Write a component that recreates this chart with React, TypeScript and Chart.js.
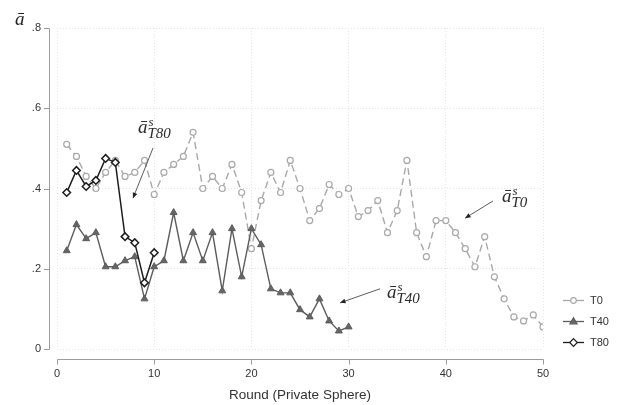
import { useEffect, useRef } from "react";
import { Chart, registerables } from "chart.js";

Chart.register(...registerables);

// ---------- data ----------
const rounds = [
  1, 2, 3, 4, 5, 6, 7, 8, 9, 10,
  11, 12, 13, 14, 15, 16, 17, 18, 19, 20,
  21, 22, 23, 24, 25, 26, 27, 28, 29, 30,
  31, 32, 33, 34, 35, 36, 37, 38, 39, 40,
  41, 42, 43, 44, 45, 46, 47, 48, 49, 50,
];

const t0Values = [
  0.51, 0.48, 0.43, 0.40, 0.44, 0.47, 0.43, 0.44, 0.47, 0.385,
  0.44, 0.46, 0.48, 0.54, 0.40, 0.43, 0.40, 0.46, 0.39, 0.25,
  0.37, 0.44, 0.39, 0.47, 0.40, 0.32, 0.35, 0.41, 0.385, 0.40,
  0.33, 0.345, 0.37, 0.29, 0.345, 0.47, 0.29, 0.23, 0.32, 0.32,
  0.29, 0.25, 0.205, 0.28, 0.18, 0.125, 0.08, 0.07, 0.085, 0.055,
];

const t40Values = [
  0.245, 0.31, 0.275, 0.29, 0.205, 0.205, 0.22, 0.23, 0.125, 0.205,
  0.22, 0.34, 0.22, 0.29, 0.22, 0.29, 0.145, 0.30, 0.18, 0.30,
  0.26, 0.15, 0.14, 0.14, 0.098, 0.08, 0.125, 0.07, 0.045, 0.055,
];

const t80Values = [0.39, 0.445, 0.405, 0.42, 0.475, 0.465, 0.28, 0.265, 0.165, 0.24];

const seriesNames = ["T0", "T40", "T80"];
const yTickLabels = ["0", ".2", ".4", ".6", ".8"];
const xTitle = "Round (Private Sphere)";
const yTitle = "ā";

// annotation labels (data units): label anchor, arrow start, arrow end
const annotations = [
  { sub: "T80", at: [8.33, 0.538], from: [9.88, 0.501], to: [7.82, 0.376] },
  { sub: "T0", at: [45.78, 0.366], from: [44.86, 0.369], to: [41.98, 0.326] },
  { sub: "T40", at: [33.95, 0.127], from: [33.23, 0.15], to: [29.12, 0.115] },
];

const colors = {
  t0: "#a8a8a8",
  t40: "#5c5c5c",
  t80: "#1c1c1c",
  axis: "#9c9c9c",
  grid: "#e4e4e4",
  text: "#333333",
};

const SANS = '"Liberation Sans", Arial, sans-serif';
const SERIF = '"Liberation Serif", "Times New Roman", serif';

function drawMarker(ctx: CanvasRenderingContext2D, style: string, cx: number, cy: number, r: number, fill: string, stroke: string, lw: number) {
  ctx.save();
  ctx.fillStyle = fill;
  ctx.strokeStyle = stroke;
  ctx.lineWidth = lw;
  ctx.setLineDash([]);
  ctx.beginPath();
  if (style === "circle") {
    ctx.arc(cx, cy, r, 0, Math.PI * 2);
  } else if (style === "triangle") {
    ctx.moveTo(cx, cy - r);
    ctx.lineTo(cx + r * 0.95, cy + r * 0.6);
    ctx.lineTo(cx - r * 0.95, cy + r * 0.6);
    ctx.closePath();
  } else {
    ctx.moveTo(cx, cy - r);
    ctx.lineTo(cx + r, cy);
    ctx.lineTo(cx, cy + r);
    ctx.lineTo(cx - r, cy);
    ctx.closePath();
  }
  ctx.fill();
  ctx.stroke();
  ctx.restore();
}

const overlayPlugin = {
  id: "overlay",
  afterDraw(chart: any) {
    const { ctx } = chart;
    const xs = chart.scales.x;
    const ys = chart.scales.y;
    ctx.save();

    // --- separated axes (Stata style) ---
    ctx.strokeStyle = colors.axis;
    ctx.lineWidth = 1;
    ctx.setLineDash([]);
    const yAxisX = Math.round(xs.left) - 7.5;
    const yTop = Math.round(ys.getPixelForValue(ys.max)) + 0.5;
    const yBot = Math.round(ys.getPixelForValue(ys.min)) + 0.5;
    ctx.beginPath();
    ctx.moveTo(yAxisX, yTop);
    ctx.lineTo(yAxisX, yBot);
    ys.ticks.forEach((t: any) => {
      const py = Math.round(ys.getPixelForValue(t.value)) + 0.5;
      ctx.moveTo(yAxisX - 5.5, py);
      ctx.lineTo(yAxisX, py);
    });
    const xAxisY = Math.round(ys.bottom) + 10.5;
    const xL = Math.round(xs.getPixelForValue(xs.min)) + 0.5;
    const xR = Math.round(xs.getPixelForValue(xs.max)) + 0.5;
    ctx.moveTo(xL, xAxisY);
    ctx.lineTo(xR, xAxisY);
    xs.ticks.forEach((t: any) => {
      const px = Math.round(xs.getPixelForValue(t.value)) + 0.5;
      ctx.moveTo(px, xAxisY);
      ctx.lineTo(px, xAxisY + 5);
    });
    ctx.stroke();

    // --- y title ---
    ctx.fillStyle = "#222";
    ctx.font = `italic 19px ${SERIF}`;
    ctx.textAlign = "left";
    ctx.textBaseline = "alphabetic";
    ctx.fillText(yTitle, 15, 25);

    // --- annotations ---
    annotations.forEach((a) => {
      const lx = xs.getPixelForValue(a.at[0]);
      const ly = ys.getPixelForValue(a.at[1]);
      ctx.fillStyle = "#2a2a2a";
      ctx.font = `italic 19px ${SERIF}`;
      ctx.fillText("ā", lx, ly);
      const w = ctx.measureText("ā").width;
      ctx.font = `italic 13px ${SERIF}`;
      ctx.fillText("s", lx + w + 1, ly - 7);
      ctx.font = `italic 15px ${SERIF}`;
      ctx.fillText(a.sub, lx + w, ly + 5);

      const x1 = xs.getPixelForValue(a.from[0]);
      const y1 = ys.getPixelForValue(a.from[1]);
      const x2 = xs.getPixelForValue(a.to[0]);
      const y2 = ys.getPixelForValue(a.to[1]);
      ctx.strokeStyle = "#4a4a4a";
      ctx.lineWidth = 0.9;
      ctx.beginPath();
      ctx.moveTo(x1, y1);
      ctx.lineTo(x2, y2);
      ctx.stroke();
      const ang = Math.atan2(y2 - y1, x2 - x1);
      const L = 5.5, H = 2.4;
      ctx.fillStyle = "#222";
      ctx.beginPath();
      ctx.moveTo(x2, y2);
      ctx.lineTo(x2 - L * Math.cos(ang) + H * Math.sin(ang), y2 - L * Math.sin(ang) - H * Math.cos(ang));
      ctx.lineTo(x2 - L * Math.cos(ang) - H * Math.sin(ang), y2 - L * Math.sin(ang) + H * Math.cos(ang));
      ctx.closePath();
      ctx.fill();
    });

    // --- legend ---
    const legendStyles = [
      { style: "circle", color: colors.t0, fill: "#fff", r: 2.8, dash: [] as number[] },
      { style: "triangle", color: colors.t40, fill: "#666", r: 3.8, dash: [] as number[] },
      { style: "diamond", color: colors.t80, fill: "#fff", r: 3.8, dash: [] as number[] },
    ];
    seriesNames.forEach((name, i) => {
      const cy = 300 + i * 21 + 0.5;
      const s = legendStyles[i];
      ctx.strokeStyle = s.color;
      ctx.lineWidth = 1.3;
      ctx.beginPath();
      ctx.moveTo(563, cy);
      ctx.lineTo(584, cy);
      ctx.stroke();
      drawMarker(ctx, s.style, 573.5, cy, s.r, s.fill, s.color, 1.2);
      ctx.fillStyle = colors.text;
      ctx.font = `11px ${SANS}`;
      ctx.textBaseline = "middle";
      ctx.fillText(name, 590, cy);
      ctx.textBaseline = "alphabetic";
    });

    ctx.restore();
  },
};

export default function App() {
  const canvasRef = useRef<HTMLCanvasElement | null>(null);

  useEffect(() => {
    if (!canvasRef.current) return;
    Chart.defaults.font.family = SANS;
    const chart = new Chart(canvasRef.current, {
      type: "line",
      data: {
        datasets: [
          {
            label: seriesNames[0],
            data: rounds.map((r, i) => ({ x: r, y: t0Values[i] })),
            borderColor: colors.t0,
            borderWidth: 1.4,
            borderDash: [7, 4],
            pointStyle: "circle",
            pointRadius: 3,
            pointBackgroundColor: "#ffffff",
            pointBorderColor: colors.t0,
            pointBorderWidth: 1.2,
            tension: 0,
            order: 2,
          },
          {
            label: seriesNames[1],
            data: t40Values.map((v, i) => ({ x: rounds[i], y: v })),
            borderColor: colors.t40,
            borderWidth: 1.4,
            pointStyle: "triangle",
            pointRadius: 4,
            pointBackgroundColor: "#666666",
            pointBorderColor: colors.t40,
            pointBorderWidth: 1,
            tension: 0,
            order: 1,
          },
          {
            label: seriesNames[2],
            data: t80Values.map((v, i) => ({ x: rounds[i], y: v })),
            borderColor: colors.t80,
            borderWidth: 1.5,
            pointStyle: "rectRot",
            pointRadius: 3.8,
            pointBackgroundColor: "#ffffff",
            pointBorderColor: colors.t80,
            pointBorderWidth: 1.5,
            tension: 0,
            order: 0,
          },
        ],
      },
      options: {
        responsive: false,
        animation: false,
        events: [],
        layout: { padding: { top: 28, right: 80, left: 0, bottom: 0 } },
        plugins: { legend: { display: false }, tooltip: { enabled: false } },
        scales: {
          x: {
            type: "linear",
            min: 0,
            max: 50,
            ticks: { stepSize: 10, padding: 18, color: colors.text, font: { size: 11 }, maxRotation: 0 },
            grid: { color: colors.grid, lineWidth: 1, drawTicks: false },
            border: { display: false, dash: [1, 2] },
            title: {
              display: true,
              text: xTitle,
              color: colors.text,
              font: { size: 13.5 },
              padding: { top: 0, bottom: 2 },
            },
            afterFit: (scale: any) => {
              scale.height = 56;
            },
          },
          y: {
            type: "linear",
            min: 0,
            max: 0.8,
            ticks: {
              stepSize: 0.2,
              padding: 16,
              color: colors.text,
              font: { size: 11 },
              callback: (_v: any, i: number) => yTickLabels[i],
            },
            grid: { color: colors.grid, lineWidth: 1, drawTicks: false },
            border: { display: false, dash: [1, 2] },
            afterFit: (scale: any) => {
              scale.width = 57;
            },
          },
        },
      },
      plugins: [overlayPlugin],
    } as any);
    return () => chart.destroy();
  }, []);

  return (
    <div style={{ position: "fixed", left: 0, top: 0, width: 623, height: 405, background: "#fff" }}>
      <canvas ref={canvasRef} width={623} height={405} style={{ display: "block" }} />
    </div>
  );
}
